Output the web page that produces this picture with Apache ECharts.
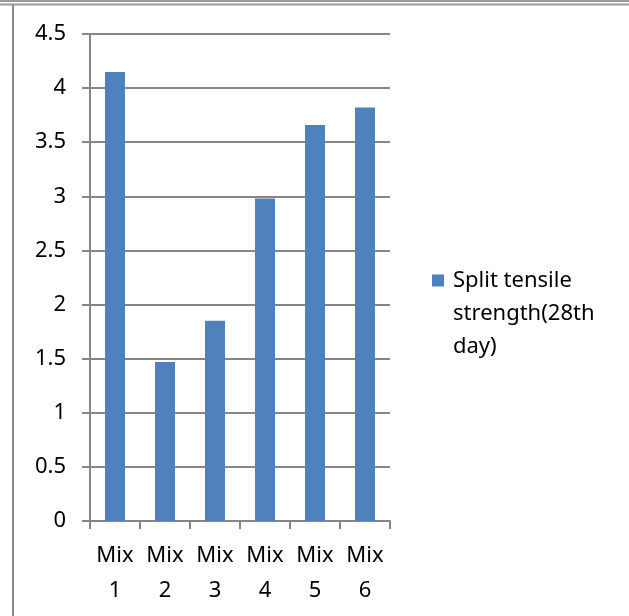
<!DOCTYPE html>
<html>
<head>
<meta charset="utf-8">
<script src="https://cdn.jsdelivr.net/npm/echarts@6/dist/echarts.min.js"></script>
<style>
  html, body { margin: 0; padding: 0; background: #fff; }
  #chart { width: 629px; height: 616px; }
</style>
</head>
<body>
<div id="chart"></div>
<script>
const categories = ["Mix\n1", "Mix\n2", "Mix\n3", "Mix\n4", "Mix\n5", "Mix\n6"];
const seriesName = "Split tensile strength(28th day)";
const strength = [4.15, 1.47, 1.85, 2.98, 3.66, 3.82];

const font = "Noto Sans";
const chart = echarts.init(document.getElementById("chart"));

const option = {
  animation: false,
  grid: { left: 90, right: 239, top: 34, bottom: 95 },
  legend: {
    data: [seriesName],
    orient: "vertical",
    left: 427,
    top: 193,
    itemWidth: 12,
    itemHeight: 12,
    icon: "rect",
    // blank lines above keep the first text line level with the icon
    formatter: () => " \n \nSplit tensile\nstrength(28th\nday)",
    textStyle: {
      fontFamily: font,
      fontSize: 22,
      color: "#000",
      lineHeight: 33,
      padding: [0, 0, 0, 4],
    },
  },
  xAxis: {
    type: "category",
    data: categories,
    axisLine: { lineStyle: { color: "#868686", width: 2 } },
    axisTick: { show: true, length: 8, lineStyle: { color: "#868686", width: 2 } },
    axisLabel: {
      fontFamily: font,
      fontSize: 22,
      color: "#000",
      lineHeight: 35,
      margin: 17,
      interval: 0,
    },
  },
  yAxis: {
    type: "value",
    min: 0,
    max: 4.5,
    interval: 0.5,
    axisLine: { show: true, lineStyle: { color: "#868686", width: 2 } },
    axisTick: { show: true, length: 8, lineStyle: { color: "#868686", width: 2 } },
    splitLine: { lineStyle: { color: "#868686", width: 2 } },
    axisLabel: {
      fontFamily: font,
      fontSize: 22,
      color: "#000",
      margin: 24,
    },
  },
  series: [
    {
      name: seriesName,
      type: "bar",
      data: strength,
      barWidth: "40%",
      itemStyle: { color: "#4F81BD" },
    },
  ],
  graphic: [
    { type: "line", shape: { x1: 0, y1: 1, x2: 629, y2: 1 }, style: { stroke: "#9a9a9a", lineWidth: 2 } },
    { type: "line", shape: { x1: 0, y1: 4.5, x2: 629, y2: 4.5 }, style: { stroke: "#9a9a9a", lineWidth: 2 } },
    { type: "line", shape: { x1: 13, y1: 5, x2: 13, y2: 616 }, style: { stroke: "#8a8a8a", lineWidth: 2 } },
  ],
};

chart.setOption(option);
</script>
</body>
</html>
